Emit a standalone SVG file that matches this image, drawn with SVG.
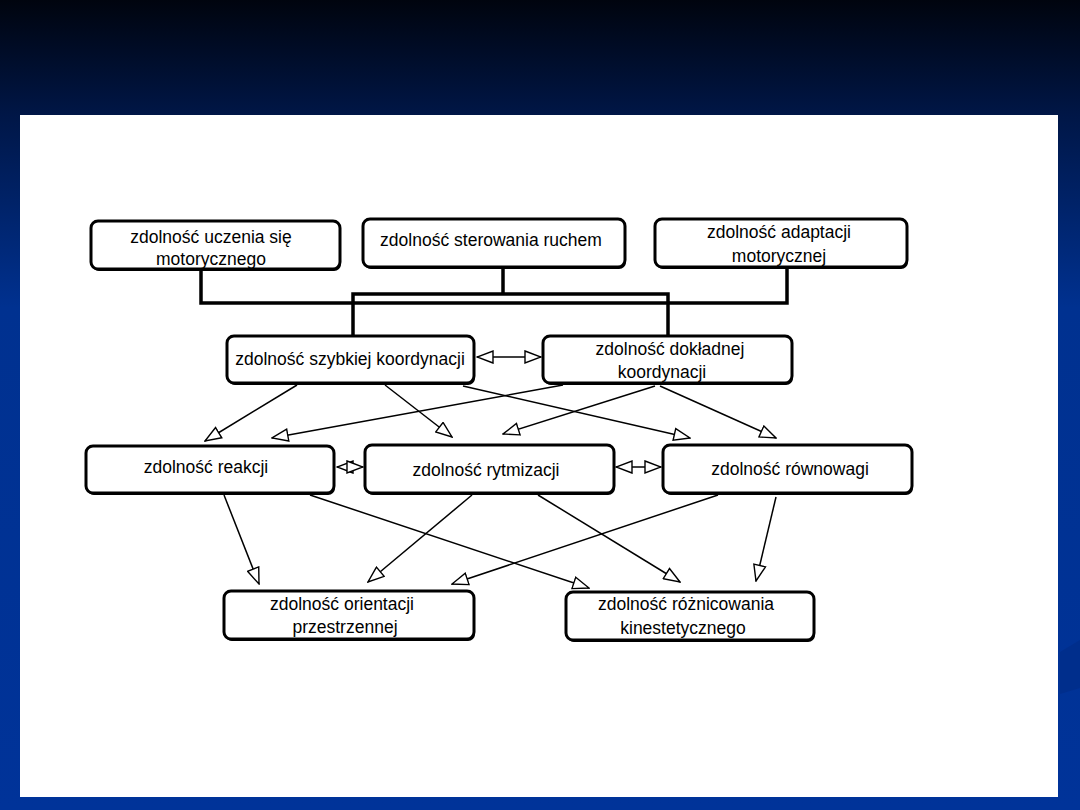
<svg xmlns="http://www.w3.org/2000/svg" width="1080" height="810" viewBox="0 0 1080 810">
<defs>
  <linearGradient id="bg" x1="0" y1="0" x2="0" y2="810" gradientUnits="userSpaceOnUse">
    <stop offset="0" stop-color="#00040e"/>
    <stop offset="0.14" stop-color="#001646"/>
    <stop offset="0.38" stop-color="#003190"/>
    <stop offset="1" stop-color="#003399"/>
  </linearGradient>
  <marker id="ah" viewBox="0 0 18 14" refX="17" refY="7" markerWidth="18" markerHeight="14" markerUnits="userSpaceOnUse" orient="auto-start-reverse">
    <path d="M1,1 L17,7 L1,13 Z" fill="#fff" stroke="#000" stroke-width="1.4" stroke-linejoin="miter"/>
  </marker>
  <style>
    .shadow { fill: #000; }
    .box { fill: #fff; stroke: #000; stroke-width: 3; }
    .lbl { font-family: "Liberation Sans", Arial, sans-serif; font-size: 17.5px; fill: #000; text-anchor: middle; }
    .thick { fill: none; stroke: #000; stroke-width: 3.5; }
    .arr { fill: none; stroke: #000; stroke-width: 1.5; marker-end: url(#ah); }
    .dbl { fill: none; stroke: #000; stroke-width: 1.5; marker-start: url(#ah); marker-end: url(#ah); }
  </style>
</defs>

<rect x="0" y="0" width="1080" height="810" fill="url(#bg)"/>
<polygon points="1060,652 1080,640 1080,688 1060,694" fill="#002b85" opacity="0.6"/>
<rect x="20" y="115" width="1038" height="682" fill="#fff"/>

<g id="connectors">
  <path class="thick" d="M201,269 V303 H787 V267"/>
  <path class="thick" d="M353,336 V294 H668 V336"/>
  <path class="thick" d="M503,267 V294"/>

  <path class="dbl" d="M477,357 H541"/>
  <path class="dbl" d="M337,467 H363"/>
  <path class="dbl" d="M616,467 H661"/>

  <path class="arr" d="M297,385 L205,441"/>
  <path class="arr" d="M385,385 L452,437"/>
  <path class="arr" d="M463,386 L690,438"/>
  <path class="arr" d="M563,385 L272,438"/>
  <path class="arr" d="M655,386 L503,434"/>
  <path class="arr" d="M660,386 L776,438"/>

  <path class="arr" d="M224,495 L259,584"/>
  <path class="arr" d="M310,495 L589,588"/>
  <path class="arr" d="M472,495 L368,582"/>
  <path class="arr" d="M538,495 L680,582"/>
  <path class="arr" d="M718,495 L452,584"/>
  <path class="arr" d="M776,497 L756,581"/>
</g>

<g id="n-uczenie">
  <rect class="shadow" x="92" y="223" width="249" height="48" rx="7"/>
  <rect class="box" x="91" y="221" width="249" height="48" rx="7"/>
  <text class="lbl" x="211" y="243">zdolność uczenia się</text>
  <text class="lbl" x="211" y="265">motorycznego</text>
</g>

<g id="n-sterowanie">
  <rect class="shadow" x="364" y="221" width="262" height="48" rx="7"/>
  <rect class="box" x="363" y="219" width="262" height="48" rx="7"/>
  <text class="lbl" x="491" y="246">zdolność sterowania ruchem</text>
</g>

<g id="n-adaptacja">
  <rect class="shadow" x="656" y="221" width="252" height="48" rx="7"/>
  <rect class="box" x="655" y="219" width="252" height="48" rx="7"/>
  <text class="lbl" x="779" y="238">zdolność adaptacji</text>
  <text class="lbl" x="779" y="262">motorycznej</text>
</g>

<g id="n-szybka">
  <rect class="shadow" x="228" y="338" width="247" height="47" rx="7"/>
  <rect class="box" x="227" y="336" width="247" height="47" rx="7"/>
  <text class="lbl" x="350" y="365">zdolność szybkiej koordynacji</text>
</g>

<g id="n-dokladna">
  <rect class="shadow" x="544" y="338" width="249" height="47" rx="7"/>
  <rect class="box" x="543" y="336" width="249" height="47" rx="7"/>
  <text class="lbl" x="670" y="355">zdolność dokładnej</text>
  <text class="lbl" x="662" y="378">koordynacji</text>
</g>

<g id="n-reakcja">
  <rect class="shadow" x="87" y="448" width="248" height="47" rx="7"/>
  <rect class="box" x="86" y="446" width="248" height="47" rx="7"/>
  <text class="lbl" x="206" y="473">zdolność reakcji</text>
</g>

<g id="n-rytmizacja">
  <rect class="shadow" x="366" y="447" width="249" height="48" rx="7"/>
  <rect class="box" x="365" y="445" width="249" height="48" rx="7"/>
  <text class="lbl" x="486" y="476">zdolność rytmizacji</text>
</g>

<g id="n-rownowaga">
  <rect class="shadow" x="664" y="447" width="249" height="48" rx="7"/>
  <rect class="box" x="663" y="445" width="249" height="48" rx="7"/>
  <text class="lbl" x="790" y="475">zdolność równowagi</text>
</g>

<g id="n-orientacja">
  <rect class="shadow" x="225" y="593" width="250" height="48" rx="7"/>
  <rect class="box" x="224" y="591" width="250" height="48" rx="7"/>
  <text class="lbl" x="342" y="610">zdolność orientacji</text>
  <text class="lbl" x="345" y="633">przestrzennej</text>
</g>

<g id="n-roznicowanie">
  <rect class="shadow" x="567" y="594" width="248" height="48" rx="7"/>
  <rect class="box" x="566" y="592" width="248" height="48" rx="7"/>
  <text class="lbl" x="686" y="610">zdolność różnicowania</text>
  <text class="lbl" x="683" y="634">kinestetycznego</text>
</g>
</svg>
